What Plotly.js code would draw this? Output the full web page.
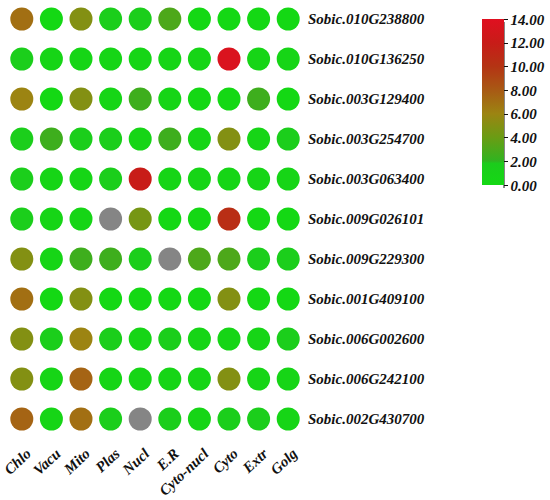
<!DOCTYPE html>
<html>
<head>
<meta charset="utf-8">
<script src="https://cdn.plot.ly/plotly-3.0.1.min.js"></script>
<style>html,body{margin:0;padding:0;background:#fff}#chart{width:550px;height:500px}</style>
</head>
<body>
<div id="chart"></div>
<script>
const compartments = ['Chlo','Vacu','Mito','Plas','Nucl','E.R','Cyto-nucl','Cyto','Extr','Golg'];
const genes = ['Sobic.010G238800','Sobic.010G136250','Sobic.003G129400','Sobic.003G254700','Sobic.003G063400','Sobic.009G026101','Sobic.009G229300','Sobic.001G409100','Sobic.006G002600','Sobic.006G242100','Sobic.002G430700'];
// null = no value (drawn grey)
const g010G238800 = [7, 0, 5, 1.5, 1.5, 3, 0, 0, 0, 0];
const g010G136250 = [1.5, 0.5, 0.5, 0.5, 0.5, 0.5, 0.5, 13.5, 0.5, 0.5];
const g003G129400 = [6, 0, 5, 0.5, 2.5, 0.5, 0, 0, 2.5, 0];
const g003G254700 = [1.5, 2.5, 1.5, 1.5, 0.5, 2.5, 0.5, 5, 0.5, 1.5];
const g003G063400 = [1.5, 0.5, 0.5, 1.5, 12, 0.5, 0.5, 0.5, 0.5, 0.5];
const g009G026101 = [1.5, 0.5, 0.5, null, 4.5, 0, 0, 10.5, 0, 0];
const g009G229300 = [5, 0.5, 2.5, 2.5, 1.5, null, 3, 3, 1.5, 1.5];
const g001G409100 = [7, 0, 5, 0, 0, 0, 0, 5, 0, 0];
const g006G002600 = [5, 1.5, 6, 1.5, 0.5, 1.5, 0.5, 0.5, 0.5, 1.5];
const g006G242100 = [5, 0.5, 7.5, 0.5, 0.5, 0.5, 0.5, 5, 0.5, 0.5];
const g002G430700 = [7.5, 0.5, 7, 1.5, null, 1.5, 0.5, 1.5, 1.5, 0.5];
const values = [g010G238800,g010G136250,g003G129400,g003G254700,g003G063400,g009G026101,g009G229300,g001G409100,g006G002600,g006G242100,g002G430700];
const colorTicks = [0,2,4,6,8,10,12,14];

const xs=[],ys=[],cs=[],gx=[],gy=[];
values.forEach((row,i)=>row.forEach((v,j)=>{
  if(v===null){gx.push(j);gy.push(i);}
  else{xs.push(j);ys.push(i);cs.push(v);}
}));

const fam = '"Liberation Serif", "Times New Roman", serif';
const fnt = {family:fam, size:15, color:'#111', weight:'bold', style:'italic'};

const traces = [
 {type:'scatter',mode:'markers',x:xs,y:ys,hoverinfo:'skip',
  marker:{size:23,color:cs,cmin:0,cmax:14,line:{width:0},
   colorscale:[[0,'#14d814'],[0.13,'#1ccc1c'],[0.145,'#30b420'],[0.286,'#6a9c14'],[0.43,'#9c8412'],[0.57,'#a85a14'],[0.714,'#b43414'],[0.857,'#c81c18'],[1,'#e01020']],
   colorbar:{xref:'container',yref:'container',x:482/550,xanchor:'left',y:1-22/500,yanchor:'top',
     xpad:0,ypad:0,
     thickness:22,thicknessmode:'pixels',len:166,lenmode:'pixels',outlinewidth:0,
     tickvals:colorTicks,tickformat:'.2f',ticks:'outside',ticklen:4,tickcolor:'#111',tickwidth:1,
     tickfont:fnt,showticklabels:true}}},
 {type:'scatter',mode:'markers',x:gx,y:gy,hoverinfo:'skip',
  marker:{size:23,color:'#858585',line:{width:0}}}
];

const layout = {
 width:550,height:500,showlegend:false,
 paper_bgcolor:'#fff',plot_bgcolor:'#fff',
 margin:{l:7,r:247,t:0,b:61},
 xaxis:{range:[-0.5,9.5],tickvals:compartments.map((c,i)=>i),ticktext:compartments,tickangle:-43,
   ticklabeloverflow:'allow',ticklabelshift:5,ticklabelstandoff:2,
   showgrid:false,zeroline:false,showline:false,ticks:'',tickfont:fnt,fixedrange:true},
 yaxis:{range:[10.5,-0.475],tickvals:genes.map((g,i)=>i),ticktext:genes,side:'right',
   ticklabeloverflow:'allow',
   showgrid:false,zeroline:false,showline:false,ticks:'',ticklabelstandoff:4,tickfont:fnt,fixedrange:true},
 shapes:[{type:'line',xref:'paper',yref:'paper',x0:(504-7)/296,x1:(504-7)/296,y0:1-22/439,y1:1-188/439,
   line:{color:'#111',width:1}}]
};
Plotly.newPlot('chart',traces,layout,{displayModeBar:false,staticPlot:true});
</script>
</body>
</html>
